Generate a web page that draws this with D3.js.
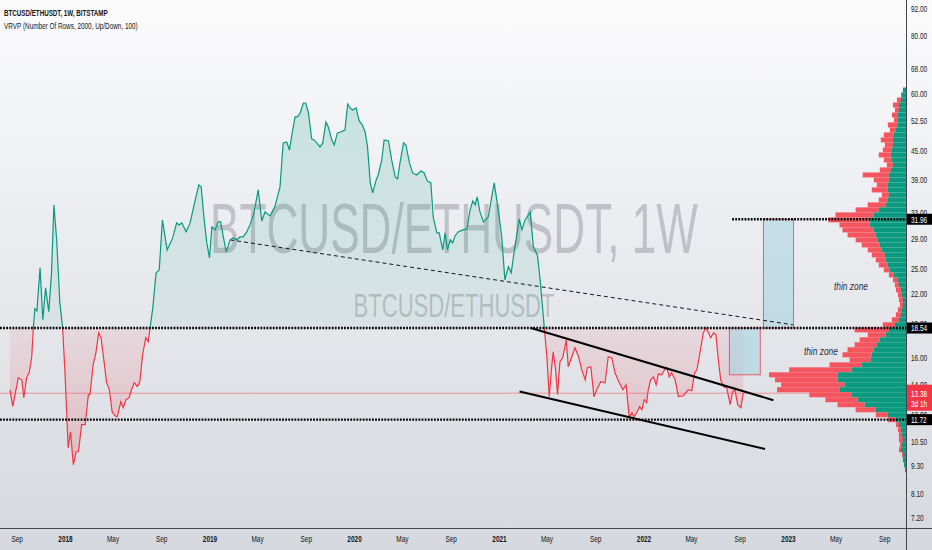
<!DOCTYPE html>
<html><head><meta charset="utf-8">
<script src="https://cdn.jsdelivr.net/npm/d3@7"></script>
<style>
html,body{margin:0;padding:0;overflow:hidden;background:#fff}
svg{display:block}
text{font-family:"Liberation Sans",Arial,sans-serif}
</style></head><body>
<svg id="c" width="932" height="550"></svg>
<script>
// ---------- DATA ----------
const dates = ["2017-08-15","2017-08-22","2017-09-05","2017-09-14","2017-09-19","2017-09-26","2017-10-03","2017-10-09","2017-10-13","2017-10-17","2017-10-22","2017-10-30","2017-11-06","2017-11-13","2017-11-21","2017-11-28","2017-12-04","2017-12-11","2017-12-19","2017-12-26",
"2018-01-01","2018-01-09","2018-01-15","2018-01-22","2018-01-29","2018-02-04","2018-02-12","2018-02-21","2018-03-01","2018-03-05","2018-03-13","2018-03-20","2018-03-27","2018-04-02","2018-04-10","2018-04-16","2018-04-23","2018-04-30","2018-05-07","2018-05-13","2018-05-22","2018-05-28","2018-06-04","2018-06-12","2018-06-18","2018-06-25","2018-07-03","2018-07-09","2018-07-16","2018-07-24","2018-07-30","2018-08-04","2018-08-11","2018-08-19","2018-08-27","2018-09-04","2018-09-16","2018-09-30","2018-10-10","2018-10-16","2018-10-23","2018-11-03","2018-11-13","2018-11-23","2018-12-05","2018-12-11","2018-12-18","2018-12-25",
"2019-01-01","2019-01-07","2019-01-15","2019-01-23","2019-01-29","2019-02-05","2019-02-12","2019-02-22","2019-03-02","2019-03-11","2019-03-19","2019-03-27","2019-04-05","2019-04-13","2019-04-22","2019-05-04","2019-05-13","2019-05-21","2019-06-03","2019-06-15","2019-06-28","2019-07-06","2019-07-15","2019-07-22","2019-07-28","2019-08-05","2019-08-11","2019-08-18","2019-08-26","2019-09-01","2019-09-08","2019-09-16","2019-09-22","2019-09-29","2019-10-07","2019-10-14","2019-10-22","2019-10-28","2019-11-06","2019-11-12","2019-11-20","2019-11-28","2019-12-09","2019-12-16","2019-12-22","2019-12-28",
"2020-01-06","2020-01-09","2020-01-14","2020-01-22","2020-01-29","2020-02-04","2020-02-11","2020-02-17","2020-02-26","2020-03-02","2020-03-11","2020-03-17","2020-03-28","2020-04-05","2020-04-14","2020-04-20","2020-04-26","2020-05-05","2020-05-11","2020-05-20","2020-05-28","2020-06-07","2020-06-18","2020-06-26","2020-07-04","2020-07-13","2020-07-19","2020-07-28","2020-08-03","2020-08-12","2020-08-18","2020-08-24","2020-08-31","2020-09-06","2020-09-12","2020-09-20","2020-10-02","2020-10-12","2020-10-20","2020-10-27","2020-11-02","2020-11-07","2020-11-14","2020-11-23","2020-12-05","2020-12-20","2020-12-31",
"2021-01-08","2021-01-16","2021-01-25","2021-02-01","2021-02-08","2021-02-21","2021-02-28","2021-03-08","2021-03-21","2021-03-29","2021-04-08","2021-04-15","2021-04-26","2021-05-02","2021-05-08","2021-05-14","2021-05-18","2021-05-24","2021-05-29","2021-06-04","2021-06-11","2021-06-20","2021-06-25","2021-07-04","2021-07-12","2021-07-21","2021-07-29","2021-08-07","2021-08-12","2021-08-21","2021-08-29","2021-09-05","2021-09-15","2021-09-26","2021-10-04","2021-10-13","2021-10-21","2021-11-01","2021-11-10","2021-11-18","2021-11-26","2021-12-03","2021-12-08","2021-12-15","2021-12-22","2021-12-28",
"2022-01-03","2022-01-09","2022-01-13","2022-01-19","2022-01-26","2022-02-02","2022-02-08","2022-02-16","2022-02-23","2022-03-01","2022-03-07","2022-03-13","2022-03-22","2022-03-30","2022-04-12","2022-04-24","2022-05-03","2022-05-10","2022-05-16","2022-05-24","2022-06-01","2022-06-08","2022-06-14","2022-06-20","2022-06-27","2022-07-03","2022-07-09","2022-07-15","2022-07-22","2022-07-30","2022-08-08","2022-08-14","2022-08-20","2022-08-27","2022-09-04","2022-09-10"];
const ratio = [13.61,12.52,14.45,14.31,13.08,14.45,14.89,16.06,18.56,20.41,20.21,25.05,19.32,22.67,20.11,24.43,34.34,28.82,21.03,18.56,
14.82,10.18,11.03,9.35,9.98,9.98,11.43,11.43,13.28,13.28,15.42,16.38,18.10,17.66,15.58,14.10,13.61,12.20,11.95,11.89,12.82,12.44,12.95,13.08,13.61,14.10,13.82,14.17,16.22,17.66,17.31,18.56,20.61,24.43,24.80,31.85,27.41,29.11,31.38,31.07,31.38,30.00,31.38,34.34,37.95,37.57,32.17,28.39,
26.34,30.76,30.30,31.54,31.54,29.25,27.14,28.82,29.11,28.82,29.25,29.25,30.00,31.07,32.66,37.01,31.69,33.15,32.50,34.00,37.57,46.80,47.05,45.21,48.73,53.33,53.33,54.40,57.19,57.19,54.40,47.77,47.53,46.82,45.90,46.82,52.00,50.72,47.53,46.35,49.22,49.47,49.96,56.90,55.78,55.22,
55.78,54.40,52.27,51.23,49.47,45.90,38.33,36.46,38.91,39.89,43.00,47.53,47.29,43.00,39.50,39.10,42.36,46.82,46.35,42.36,40.30,39.89,40.70,40.30,38.72,38.33,32.33,29.85,29.85,27.41,29.85,27.41,28.82,28.39,29.40,30.00,30.30,30.45,33.49,35.03,34.34,35.74,33.15,31.54,32.33,38.33,33.15,
29.25,23.59,25.18,24.43,27.00,32.00,30.30,31.85,33.15,27.83,26.74,23.59,18.37,16.06,13.15,15.19,16.46,15.04,13.28,15.66,15.97,17.48,15.27,16.06,16.80,16.06,15.04,14.31,15.19,15.27,13.15,13.61,14.17,14.10,16.06,15.97,14.82,14.10,13.61,13.96,11.84,12.13,11.89,12.13,12.51,12.32,
12.95,12.76,13.61,14.31,14.52,13.96,14.74,14.67,15.04,15.19,14.52,14.82,14.31,13.15,13.21,13.61,13.54,14.82,15.04,16.46,18.10,18.56,18.10,17.66,18.10,17.92,15.81,14.31,13.82,13.75,12.63,13.48,13.61,12.63,12.44,13.38];

const priceTicks = [92,80,68,60,52.5,45,39,33,29,25,22,19,16,14,12,10.5,9.3,8.1,7.2];
const timeTicks = ["2017-09-01","2018-01-01","2018-05-01","2018-09-01","2019-01-01","2019-05-01","2019-09-01","2020-01-01","2020-05-01","2020-09-01","2021-01-01","2021-05-01","2021-09-01","2022-01-01","2022-05-01","2022-09-01","2023-01-01","2023-05-01","2023-09-01"];
const timeTickLabels = ["Sep","2018","May","Sep","2019","May","Sep","2020","May","Sep","2021","May","Sep","2022","May","Sep","2023","May","Sep"];

const baselineLevel = 18.54;
const levelValues = [31.96, 18.54, 11.72];
const levelStarts = ["2022-08-13", null, null];
const lastPrice = 13.38;
const countdown = "3d 1h";

// Volume profile (VRVP): row price, up volume, down volume
const vpPrices = [61.03,59.52,58.05,56.62,55.22,53.86,52.53,51.23,49.96,48.73,47.53,46.35,45.21,44.09,43.00,41.94,40.90,39.89,38.91,37.95,37.01,36.10,35.20,34.34,33.49,32.66,31.85,31.07,30.30,29.55,28.82,28.11,27.41,26.74,26.08,25.43,24.80,24.19,23.59,23.01,22.44,21.89,21.35,20.82,20.31,19.81,19.32,18.84,18.37,17.92,17.48,17.05,16.63,16.22,15.81,15.42,15.04,14.67,14.31,13.96,13.61,13.28,12.95,12.63,12.32,12.01,11.72,11.43,11.14,10.87,10.60,10.34,10.08,9.83,9.59,9.35,9.12];
const vpUp = [3,4,5,7,7,8,8,8,10,12,13,13,14,15,14,13,15,17,17,18,18,17,18,20,27,32,36,36,32,30,28,26,24,21,20,18,16,12,8,7,5,4,3,3,4,5,7,11,17,20,26,29,32,34,35,44,54,68,68,61,66,54,48,41,30,18,10,7,5,4,3,4,5,3,3,2,1];
const vpDown = [0,1,4,6,4,6,4,10,6,10,12,8,9,12,8,6,11,26,15,11,16,7,9,18,23,38,41,30,31,28,22,18,14,13,10,9,6,5,5,4,5,4,4,3,4,5,7,12,34,18,20,22,26,29,21,32,62,68,62,63,62,42,32,27,20,12,8,3,3,3,4,2,2,1,0,0,0];

const dashedDates = ["2019-02-22","2023-01-14"], dashedValues = [28.82,18.84];
const upperDates = ["2021-03-25","2022-11-25"], upperValues = [18.52,12.92];
const lowerDates = ["2021-02-22","2022-11-04"], lowerValues = [13.5,10.12];
const boxDates = [["2022-10-31","2023-01-15"],["2022-08-06","2022-10-23"]];
const boxValues = [[18.54,31.96],[14.67,18.54]];
const noteTexts = ["thin zone","thin zone"];
const noteDates = ["2023-06-09","2023-03-25"];
const noteValues = [22.44,16.22];

// ---------- CHART ----------
const W=932, H=550, PW=906, PH=528;
const parse = d3.utcParse("%Y-%m-%d");
const x = d3.scaleUtc().domain([parse("2018-01-01"),parse("2023-01-01")]).range([65,788]);
const y = d3.scaleLog().domain([7.2,92]).range([517,8]);
const svg = d3.select("#c");
const defs = svg.append("defs");
const SQ = 0.68;
// horizontally condense text (the reference type is narrow)
function squeeze(sel,f){ sel.each(function(){ const t=d3.select(this); const x0=+t.attr("x")||0; t.attr("x",0).attr("transform",`translate(${x0},0) scale(${f},1)`); }); }
function fitWidth(sel,w){ const n=sel.node().getComputedTextLength(); squeeze(sel,w/n); }

const bg = defs.append("linearGradient").attr("id","bg").attr("x1",0).attr("y1",0).attr("x2",0).attr("y2",1);
bg.append("stop").attr("offset",0).attr("stop-color","#fbfbfc");
bg.append("stop").attr("offset",1).attr("stop-color","#d5d8de");
svg.append("rect").attr("width",W).attr("height",H).attr("fill","url(#bg)");

const yb = y(baselineLevel);
defs.append("clipPath").attr("id","pane").append("rect").attr("width",PW).attr("height",PH);
defs.append("clipPath").attr("id","above").append("rect").attr("width",PW).attr("height",yb);
defs.append("clipPath").attr("id","below").append("rect").attr("y",yb).attr("width",PW).attr("height",PH-yb);
const gu = defs.append("linearGradient").attr("id","gu").attr("gradientUnits","userSpaceOnUse").attr("x1",0).attr("x2",0).attr("y1",y(60)).attr("y2",yb);
gu.append("stop").attr("offset",0).attr("stop-color","rgba(8,153,129,0.2)");
gu.append("stop").attr("offset",1).attr("stop-color","rgba(8,153,129,0.05)");
const gd = defs.append("linearGradient").attr("id","gd").attr("gradientUnits","userSpaceOnUse").attr("x1",0).attr("x2",0).attr("y1",yb).attr("y2",y(9));
gd.append("stop").attr("offset",0).attr("stop-color","rgba(242,54,69,0.08)");
gd.append("stop").attr("offset",1).attr("stop-color","rgba(242,54,69,0.2)");

// watermark
fitWidth(svg.append("text").attr("x",454).attr("y",253).attr("text-anchor","middle").attr("font-size",71)
  .attr("fill","rgba(120,123,134,0.38)").text("BTCUSD/ETHUSDT, 1W"),488);
fitWidth(svg.append("text").attr("x",454).attr("y",317).attr("text-anchor","middle").attr("font-size",33)
  .attr("fill","rgba(120,123,134,0.38)").text("BTCUSD/ETHUSDT"),201);

const pane = svg.append("g").attr("clip-path","url(#pane)");
const series = dates.map((d,i)=>({t:parse(d), v:ratio[i]}));
const area = d3.area().x(d=>x(d.t)).y0(yb).y1(d=>y(d.v));
const line = d3.line().x(d=>x(d.t)).y(d=>y(d.v));
pane.append("path").datum(series).attr("d",area).attr("fill","url(#gu)").attr("clip-path","url(#above)");
pane.append("path").datum(series).attr("d",area).attr("fill","url(#gd)").attr("clip-path","url(#below)");

// last price line
pane.append("line").attr("x1",0).attr("x2",PW).attr("y1",y(lastPrice)).attr("y2",y(lastPrice))
  .attr("stroke","rgba(242,54,69,0.45)").attr("stroke-width",1);

// boxes
boxDates.forEach((bd,i)=>{
  const x0=x(parse(bd[0])), x1=x(parse(bd[1])), y0=y(boxValues[i][1]), y1=y(boxValues[i][0]);
  pane.append("rect").attr("x",x0).attr("y",y0).attr("width",x1-x0).attr("height",y1-y0)
    .attr("fill","rgba(164,210,226,0.55)").attr("stroke","rgba(242,54,69,0.75)").attr("stroke-width",1);
});

// dashed line
pane.append("line").attr("x1",x(parse(dashedDates[0]))).attr("y1",y(dashedValues[0]))
  .attr("x2",x(parse(dashedDates[1]))).attr("y2",y(dashedValues[1]))
  .attr("stroke","#131722").attr("stroke-width",1).attr("stroke-dasharray","4 3");

// volume profile
const vpTot = vpUp.map((u,i)=>u+vpDown[i]);
const vx = d3.scaleLinear().domain([0,d3.max(vpTot)]).range([0,137]);
const vpY = vpPrices.map(p=>y(p));
const vp = pane.append("g");
vpPrices.forEach((p,i)=>{
  const yc=vpY[i];
  const top = i>0 ? (vpY[i-1]+yc)/2 : yc-2.5;
  const bot = i<vpPrices.length-1 ? (vpY[i+1]+yc)/2 : yc+2.5;
  const wu=vx(vpUp[i]), wt=vx(vpTot[i]);
  vp.append("rect").attr("x",PW-wt).attr("y",top).attr("width",wt-wu).attr("height",bot-top).attr("fill","#f5555f");
  vp.append("rect").attr("x",PW-wu).attr("y",top).attr("width",wu).attr("height",bot-top).attr("fill","#0a9a80");
});

// main line
pane.append("path").datum(series).attr("d",line).attr("fill","none").attr("stroke","#089981").attr("stroke-width",1.2).attr("clip-path","url(#above)");
pane.append("path").datum(series).attr("d",line).attr("fill","none").attr("stroke","#f23645").attr("stroke-width",1.2).attr("clip-path","url(#below)");

// channel
[[upperDates,upperValues],[lowerDates,lowerValues]].forEach(([d,v])=>{
  pane.append("line").attr("x1",x(parse(d[0]))).attr("y1",y(v[0])).attr("x2",x(parse(d[1]))).attr("y2",y(v[1]))
    .attr("stroke","#000").attr("stroke-width",2);
});

// dotted levels
levelValues.forEach((v,i)=>{
  const xs = levelStarts[i] ? x(parse(levelStarts[i])) : 0;
  svg.append("line").attr("x1",xs).attr("x2",PW).attr("y1",y(v)).attr("y2",y(v))
    .attr("stroke","#000").attr("stroke-width",2.4).attr("stroke-dasharray","1.8 1.3");
});

// notes
noteTexts.forEach((t,i)=>{
  fitWidth(svg.append("text").attr("x",x(parse(noteDates[i]))).attr("y",y(noteValues[i])).attr("text-anchor","middle")
    .attr("font-size",11).attr("font-style","italic").attr("fill","#2a2e39").text(t),34);
});

// legend
fitWidth(svg.append("text").attr("x",4).attr("y",16.5).attr("font-size",9.5).attr("font-weight","bold").attr("fill","#131722")
  .text("BTCUSD/ETHUSDT, 1W, BITSTAMP"),104);
fitWidth(svg.append("text").attr("x",4).attr("y",29).attr("font-size",9.5).attr("fill","#131722")
  .text("VRVP (Number Of Rows, 2000, Up/Down, 100)"),134);

// axes separators
svg.append("line").attr("x1",0).attr("x2",W).attr("y1",PH+0.5).attr("y2",PH+0.5).attr("stroke","#434651").attr("stroke-width",1);
svg.append("line").attr("x1",PW+0.5).attr("x2",PW+0.5).attr("y1",0).attr("y2",H).attr("stroke","#434651").attr("stroke-width",1);

// price axis
const ya = svg.append("g").attr("transform",`translate(${PW},0)`)
  .call(d3.axisRight(y).tickValues(priceTicks).tickFormat(d3.format(".2f")).tickSize(0).tickPadding(5));
ya.select(".domain").remove();
ya.selectAll("text").attr("font-size",9.5).attr("fill","#131722").attr("font-family",null);
squeeze(ya.selectAll("text"),SQ);

// time axis
const ta = svg.append("g").attr("transform",`translate(0,${PH})`)
  .call(d3.axisBottom(x).tickValues(timeTicks.map(parse)).tickFormat((d,i)=>timeTickLabels[i]).tickSize(0).tickPadding(7));
ta.select(".domain").remove();
ta.selectAll("text").attr("font-size",9.5).attr("fill","#131722").attr("font-family",null)
  .attr("font-weight",(d,i)=>/^\d/.test(timeTickLabels[i])?"bold":"normal");
squeeze(ta.selectAll("text"),SQ);

// level label boxes
levelValues.forEach(v=>{
  const yy=y(v);
  svg.append("rect").attr("x",PW+1).attr("y",yy-5.5).attr("width",W-PW-1).attr("height",11).attr("fill","#000");
  squeeze(svg.append("text").attr("x",PW+5).attr("y",yy+3.4).attr("font-size",9.5).attr("fill","#fff").text(d3.format(".2f")(v)),SQ);
});
const ly=y(lastPrice);
svg.append("rect").attr("x",PW+1).attr("y",ly-8.5).attr("width",W-PW-1).attr("height",26).attr("fill","#f23645");
squeeze(svg.append("text").attr("x",PW+5).attr("y",ly+3.4).attr("font-size",9.5).attr("fill","#fff").text(d3.format(".2f")(lastPrice)),SQ);
squeeze(svg.append("text").attr("x",PW+5).attr("y",ly+13.6).attr("font-size",9.5).attr("fill","#fff").text(countdown),SQ);
</script>
</body></html>
